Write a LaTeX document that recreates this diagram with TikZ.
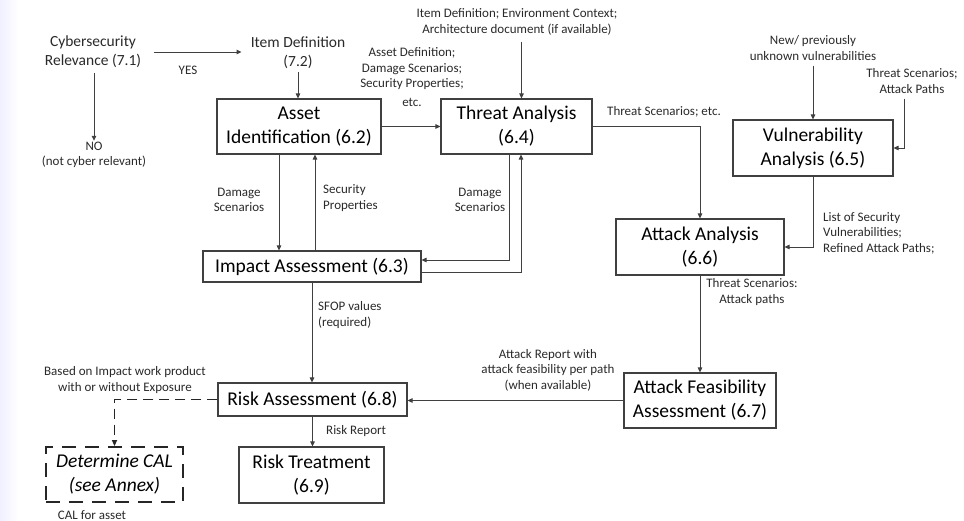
\documentclass[tikz,border=0pt]{standalone}
\usepackage{fontspec}
\setmainfont{Carlito}
\usetikzlibrary{arrows.meta,calc}
\definecolor{linec}{HTML}{404040}
\definecolor{txtc}{HTML}{2A2A2A}
\begin{document}
\begin{tikzpicture}[x=1pt,y=-1pt,
  box/.style={draw=linec,line width=1.1pt,align=center,inner sep=0pt,text=black,
    font=\fontsize{19.5}{24}\selectfont},
  mid/.style={align=center,inner sep=1pt,text=txtc,font=\fontsize{15.5}{19}\selectfont},
  lbl/.style={align=center,inner sep=1pt,text=txtc,font=\fontsize{13}{15.5}\selectfont},
  lbll/.style={lbl,align=left,anchor=west},
  arr/.style={draw=linec,line width=0.9pt,-{Triangle[length=5pt,width=4.5pt]}},
  dasharr/.style={draw=black!85,line width=1.8pt,dash pattern=on 10pt off 6pt,-{Triangle[length=6pt,width=5pt]}},
  calbox/.style={box,draw=black!85,line width=1.8pt,dash pattern=on 14pt off 9pt,font=\fontsize{19.5}{24}\selectfont\itshape}
]
\useasboundingbox (0,0) rectangle (964,521);
\fill[white] (0,0) rectangle (964,521);
\shade[left color=blue!6,right color=white] (0,0) rectangle (18,521);

% text nodes
\node[mid] (cyber) at (93,52) {Cybersecurity\\Relevance (7.1)};
\node[mid] (item) at (298,53) {Item Definition\\(7.2)};
\node[lbl] (no) at (94,155) {NO\\(not cyber relevant)};
\node[lbl] (yes) at (188,70) {YES};

% boxes
\node[box,minimum width=164pt,minimum height=55pt] (asset) at (299,126.5) {Asset\\Identification (6.2)};
\node[box,minimum width=151pt,minimum height=55pt] (threat) at (516.5,126.5) {Threat Analysis\\(6.4)};
\node[box,minimum width=160pt,minimum height=56pt] (vuln) at (813,148) {Vulnerability\\Analysis (6.5)};
\node[box,minimum width=168pt,minimum height=56pt] (attack) at (700,247) {Attack Analysis\\(6.6)};
\node[box,minimum width=152pt,minimum height=55pt] (feas) at (700,400.5) {Attack Feasibility\\Assessment (6.7)};
\node[box,minimum width=218pt,minimum height=31pt] (impact) at (312,266.5) {Impact Assessment (6.3)};
\node[box,minimum width=189pt,minimum height=33pt] (risk) at (312.5,399.5) {Risk Assessment (6.8)};
\node[box,minimum width=145pt,minimum height=56pt] (treat) at (311.5,475) {Risk Treatment\\(6.9)};
\node[calbox,minimum width=137pt,minimum height=55pt] (cal) at (114.5,474.5) {Determine CAL\\(see Annex)};

% labels
\node[lbl] (itemenv) at (517,22) {Item Definition; Environment Context;\\Architecture document (if available)};
\node[lbl] (assetdef) at (412,69) {Asset Definition;\\Damage Scenarios;\\Security Properties;};
\node[lbl] (etc) at (412,102) {etc.};
\node[lbll] (tsetc) at (606,112) {Threat Scenarios; etc.};
\node[lbl] (newvuln) at (813,48) {New/ previously\\unknown vulnerabilities};
\node[lbl] (tsap) at (912,81) {Threat Scenarios;\\Attack Paths};
\node[lbll] (list) at (822,233) {List of Security\\Vulnerabilities;\\Refined Attack Paths;};
\node[lbl] (tsap2) at (752,292) {Threat Scenarios:\\Attack paths};
\node[lbl] (dmg1) at (239,200) {Damage\\Scenarios};
\node[lbll] (secprop) at (322,198) {Security\\Properties};
\node[lbl] (dmg2) at (480,200) {Damage\\Scenarios};
\node[lbll] (sfop) at (317,315) {SFOP values\\(required)};
\node[lbl] (report) at (548,370) {Attack Report with\\attack feasibility per path\\(when available)};
\node[lbll] (riskrep) at (325,431) {Risk Report};
\node[lbl] (based) at (125,380) {Based on Impact work product\\with or without Exposure};
\node[lbl] (calasset) at (92,515) {CAL for asset};

% connectors
\draw[arr] ([xshift=12pt]cyber.east) -- ([xshift=-8pt]item.west |- cyber.east);
\draw[arr] (cyber.south) ++(1pt,-4pt) coordinate (c1) (c1) -- (c1 |- no.north);
\draw[arr] (item.south) ++(0,-2pt) -- (item.south |- asset.north);
\draw[arr] (asset.east) -- (threat.west);
\draw[arr] ([xshift=5pt]threat.north |- itemenv.south) ++(0,-6pt) -- ([xshift=5pt]threat.north);
\draw[arr] (threat.east) -| (attack.north);
\draw[arr] (newvuln.south) ++(0,-4pt) -- (vuln.north);
\draw[arr] ([xshift=-8pt,yshift=-4pt]tsap.south) |- (vuln.east);
\draw[arr] (vuln.south) |- (attack.east);
\draw[arr] (attack.south) -- (feas.north);
\draw[arr] (feas.west) -- (feas.west -| risk.east);
\draw[arr] ([xshift=-20pt]asset.south) -- ([xshift=-20pt]asset.south |- impact.north);
\draw[arr] ([xshift=16pt]asset.south |- impact.north) -- ([xshift=16pt]asset.south);
\draw[arr] ([xshift=-7.5pt]threat.south) |- ([yshift=6.5pt]impact.east);
\draw[arr] ([yshift=-5.5pt]impact.east) -| ([xshift=4.5pt]threat.south);
\draw[arr] (impact.south) -- (impact.south |- risk.north);
\draw[arr] (risk.south) -- (risk.south |- treat.north);
\draw[dasharr] (risk.west) -| (cal.north);
\end{tikzpicture}
\end{document}
